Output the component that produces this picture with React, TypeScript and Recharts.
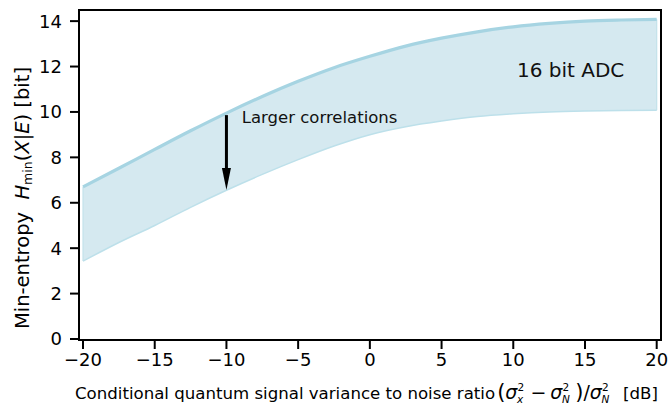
import React from "react";
import {
  ComposedChart,
  Area,
  Line,
  XAxis,
  YAxis,
  ReferenceLine,
  ReferenceDot,
} from "recharts";

// SNR in dB, and min-entropy bounds in bit (16 bit ADC)
const snrDb = [-20, -17.5, -15, -12.5, -10, -7.5, -5, -2.5, 0, 2.5, 5, 7.5, 10, 12.5, 15, 17.5, 20];
const upperBits = [6.7, 7.52, 8.35, 9.17, 9.95, 10.68, 11.35, 11.95, 12.45, 12.9, 13.25, 13.53, 13.75, 13.9, 14.0, 14.05, 14.08];
const lowerBits = [3.43, 4.25, 5.0, 5.8, 6.55, 7.25, 7.9, 8.5, 9.0, 9.35, 9.6, 9.8, 9.92, 10.0, 10.04, 10.06, 10.07];
const xTicks = [-20, -15, -10, -5, 0, 5, 10, 15, 20];
const yTicks = [0, 2, 4, 6, 8, 10, 12, 14];
const xDomain = [-20.28, 20.3];
const yDomain = [-0.044, 14.49];

const data = snrDb.map((x, i) => ({
  x,
  upper: upperBits[i],
  lower: lowerBits[i],
  band: [lowerBits[i], upperBits[i]],
}));

const FONT = "DejaVu Sans";
const first = data[0];
const last = data[data.length - 1];
const frameLine = { stroke: "#000", strokeWidth: 2 };

const fmt = (v: number) => String(v).replace("-", "\u2212");

const Arrow = (props: any) => {
  const { x1, y1, x2, y2 } = props;
  const head = 22;
  return (
    <g>
      <line x1={x1} y1={y1} x2={x2} y2={y2 - head + 2} stroke="#000" strokeWidth={3} />
      <polygon
        points={`${x2 - 4.5},${y2 - head} ${x2 + 4.5},${y2 - head} ${x2},${y2}`}
        fill="#000"
      />
    </g>
  );
};

const YLabel = () => (
  <text
    x={29}
    y={198}
    transform="rotate(-90 29 198)"
    textAnchor="middle"
    fontFamily={FONT}
    fontSize={19.5}
    fill="#000"
  >
    Min-entropy{"\u00a0\u00a0"}
    <tspan fontStyle="italic">H</tspan>
    <tspan fontSize={12.5} dy={3}>min</tspan>
    <tspan dy={-3}>(</tspan>
    <tspan fontStyle="italic">X</tspan>|<tspan fontStyle="italic">E</tspan>) [bit]
  </text>
);

// sigma with stacked superscript 2 and a subscript
const Sig = ({ sub }: { sub: string }) => (
  <>
    <tspan fontStyle="italic" fontSize={19}>σ</tspan>
    <tspan fontSize={10.5} dy={-8}>2</tspan>
    <tspan fontSize={10.5} dx={-7} dy={12} fontStyle="italic">{sub}</tspan>
    <tspan dy={-4} dx={2}>{"\u2009"}</tspan>
  </>
);

const XLabel = () => (
  <text x={75} y={399} textAnchor="start" fontFamily={FONT} fontSize={16.6} fill="#000">
    Conditional quantum signal variance to noise ratio
    <tspan fontSize={21} dx={2}>(</tspan>
    <Sig sub="x" />
    <tspan fontSize={19} dx={2}>{"\u2212\u2009"}</tspan>
    <Sig sub="N" />
    <tspan fontSize={21}>)</tspan>
    <tspan fontSize={19}>/</tspan>
    <Sig sub="N" />
    <tspan dx={3}>{"\u00a0[dB]"}</tspan>
  </text>
);

const textAt = (label: string, size: number) => (p: any) => {
  const vb = p.viewBox || {};
  return (
    <text x={vb.x} y={vb.y} fontFamily={FONT} fontSize={size} fill="#111">
      {label}
    </text>
  );
};

export default function App() {
  return (
    <div style={{ position: "absolute", left: 0, top: 0, width: 669, height: 407, background: "#fff" }}>
      <ComposedChart
        width={669}
        height={407}
        data={data}
        margin={{ top: 10, right: 8, bottom: 0, left: 0 }}
      >
        <XAxis
          dataKey="x"
          type="number"
          domain={xDomain}
          ticks={xTicks}
          tickFormatter={fmt}
          allowDataOverflow
          height={67}
          tickSize={9}
          tickMargin={4}
          axisLine={frameLine}
          tickLine={frameLine}
          tick={{ fill: "#000", fontSize: 18, fontFamily: FONT }}
          label={{ content: XLabel }}
        />
        <YAxis
          type="number"
          domain={yDomain}
          ticks={yTicks}
          allowDataOverflow
          width={79}
          tickSize={9}
          tickMargin={8}
          axisLine={frameLine}
          tickLine={frameLine}
          tick={{ fill: "#000", fontSize: 18, fontFamily: FONT }}
          label={{ content: YLabel }}
        />
        <Area
          dataKey="band"
          type="monotone"
          fill="#d5e9f0"
          fillOpacity={1}
          stroke="none"
          isAnimationActive={false}
        />
        <ReferenceLine
          segment={[{ x: first.x, y: first.lower }, { x: first.x, y: first.upper }]}
          stroke="#c3e2eb"
          strokeWidth={1.2}
        />
        <ReferenceLine
          segment={[{ x: last.x, y: last.lower }, { x: last.x, y: last.upper }]}
          stroke="#c3e2eb"
          strokeWidth={1.2}
        />
        <Line
          dataKey="lower"
          type="monotone"
          stroke="#bde0ea"
          strokeWidth={1.5}
          dot={false}
          isAnimationActive={false}
        />
        <Line
          dataKey="upper"
          type="monotone"
          stroke="#a6d4e2"
          strokeWidth={3.2}
          dot={false}
          isAnimationActive={false}
        />
        <ReferenceLine
          segment={[{ x: -10, y: 9.86 }, { x: -10, y: 6.56 }]}
          shape={Arrow}
        />
        <ReferenceDot x={-8.93} y={9.51} r={0} label={{ content: textAt("Larger correlations", 16.5) }} />
        <ReferenceDot x={10.26} y={11.55} r={0} label={{ content: textAt("16 bit ADC", 20) }} />
      </ComposedChart>
      {/* box around the plot area (top and right edges) */}
      <div
        style={{
          position: "absolute",
          left: 78,
          top: 9,
          width: 584,
          height: 332,
          boxSizing: "border-box",
          border: "2px solid #000",
          pointerEvents: "none",
        }}
      />
    </div>
  );
}
